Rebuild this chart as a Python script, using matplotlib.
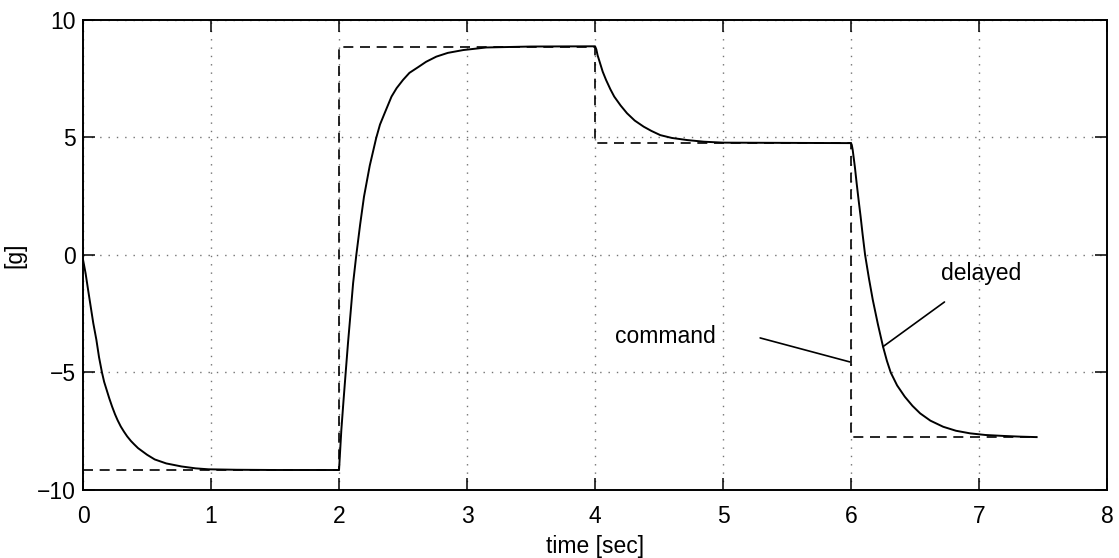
import matplotlib
matplotlib.use("Agg")
import matplotlib.pyplot as plt

matplotlib.rcParams["font.family"] = ["Liberation Sans", "DejaVu Sans"]
matplotlib.rcParams["font.size"] = 16
matplotlib.rcParams["axes.unicode_minus"] = True

# command: step signal (dashed)
cmd_t = [0.0, 2.0, 2.0, 4.0, 4.0, 6.0, 6.0, 7.45]
cmd_y = [-9.15, -9.15, 8.87, 8.87, 4.75, 4.75, -7.75, -7.75]

# delayed response
delay_t = [0.0, 0.02, 0.04, 0.06, 0.08, 0.104, 0.125, 0.148, 0.165, 0.185, 0.205,
           0.227, 0.25, 0.27, 0.295, 0.32, 0.345, 0.375, 0.4, 0.43, 0.5, 0.56,
           0.65, 0.77, 0.88, 0.98, 1.2, 1.5, 2.0,
           2.009, 2.018, 2.035, 2.052, 2.07, 2.09, 2.11, 2.135, 2.165, 2.195,
           2.24, 2.29, 2.32, 2.356, 2.41, 2.45, 2.5, 2.55, 2.62, 2.68, 2.76,
           2.85, 2.97, 3.15, 3.5, 4.0,
           4.01, 4.02, 4.04, 4.06, 4.086, 4.12, 4.15, 4.2, 4.25, 4.31, 4.38,
           4.44, 4.51, 4.6, 4.72, 4.85, 5.0, 5.5, 6.0,
           6.006, 6.013, 6.03, 6.044, 6.06, 6.075, 6.09, 6.11, 6.14, 6.17,
           6.21, 6.25, 6.28, 6.31, 6.36, 6.42, 6.48, 6.54, 6.62, 6.72, 6.82,
           6.93, 7.05, 7.19, 7.32, 7.45]
delay_y = [-0.2, -0.78, -1.5, -2.2, -2.9, -3.6, -4.35, -5.0, -5.4, -5.75, -6.1,
           -6.45, -6.78, -7.03, -7.3, -7.52, -7.72, -7.92, -8.06, -8.22, -8.5, -8.7,
           -8.87, -9.0, -9.08, -9.12, -9.14, -9.15, -9.15,
           -8.3, -7.45, -6.2, -5.0, -3.75, -2.48, -1.2, 0.0, 1.3, 2.48,
           3.8, 4.97, 5.55, 6.03, 6.74, 7.1, 7.45, 7.75, 8.0, 8.22, 8.44,
           8.6, 8.72, 8.83, 8.87, 8.88,
           8.75, 8.5, 8.15, 7.8, 7.45, 7.05, 6.74, 6.36, 6.03, 5.72, 5.46,
           5.28, 5.1, 4.98, 4.89, 4.82, 4.78, 4.77, 4.76,
           4.68, 4.47, 3.75, 3.05, 2.3, 1.63, 0.9, 0.0, -1.0, -1.91,
           -2.95, -3.9, -4.5, -5.0, -5.55, -6.03, -6.42, -6.74, -7.05, -7.31, -7.48,
           -7.59, -7.66, -7.7, -7.73, -7.75]

x_ticks = [0, 1, 2, 3, 4, 5, 6, 7, 8]
y_ticks = [-10, -5, 0, 5, 10]

# labels and their pointer lines
cmd_label = ("command", 4.55, -3.45)
cmd_pointer = [(5.29, -3.53), (5.99, -4.55)]
del_label = ("delayed", 7.02, -0.8)
del_pointer = [(6.73, -2.0), (6.25, -3.9)]

fig = plt.figure(figsize=(11.19, 5.58), dpi=100)
ax = fig.add_axes([0.0742, 0.1219, 0.9151, 0.8423])

ax.plot(cmd_t, cmd_y, color="black", linestyle=(0, (6, 4)), linewidth=1.2)
ax.plot(delay_t, delay_y, color="black", linewidth=1.4)

ax.set_xlim(0, 8)
ax.set_ylim(-10, 10)
ax.set_xticks(x_ticks)
ax.set_yticks(y_ticks)
ax.grid(True, linestyle=(0, (1, 5)), color="0.45", linewidth=1.0)
ax.tick_params(direction="in", top=True, right=True, length=8.5, width=1.1,
               labelsize=16.5)
ax.tick_params(axis="x", pad=11)
ax.tick_params(axis="y", pad=5)
for s in ax.spines.values():
    s.set_linewidth(1.4)

ax.set_xlabel("time [sec]", fontsize=16.5, labelpad=5)
ax.set_ylabel("[g]", fontsize=16.5, labelpad=8)

for (txt, tx, ty), pts in [(cmd_label, cmd_pointer), (del_label, del_pointer)]:
    ax.text(tx, ty, txt, ha="center", va="center", fontsize=16.5)
    ax.annotate("", xy=pts[1], xytext=pts[0],
                arrowprops=dict(arrowstyle="-", color="black", linewidth=1.2,
                                shrinkA=0, shrinkB=0))

fig.savefig("out.png", dpi=100)
